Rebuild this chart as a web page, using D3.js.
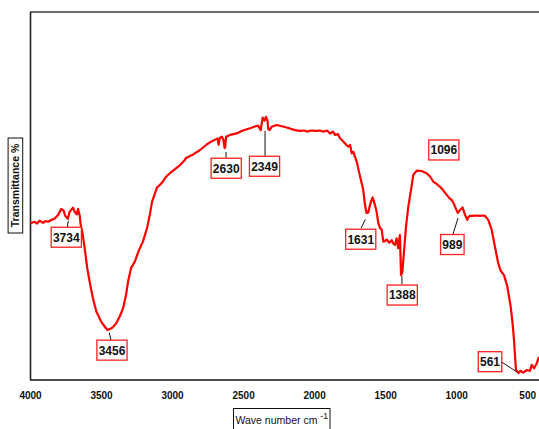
<!DOCTYPE html>
<html>
<head>
<meta charset="utf-8">
<script src="https://cdn.jsdelivr.net/npm/d3@7/dist/d3.min.js"></script>
<style>
  html, body { margin: 0; padding: 0; background: #fff; }
  svg { display: block; font-family: "Liberation Sans", Arial, sans-serif; }
</style>
</head>
<body>
<svg id="chart" width="539" height="429"></svg>
<script>
// FTIR spectrum: wavenumber (cm-1) and transmittance (%)
const wavenumber = [
  3996, 3967, 3951, 3932, 3908, 3892, 3873, 3850, 3826, 3803,
  3780, 3763, 3752, 3734, 3721, 3697, 3685, 3671, 3662, 3650,
  3643, 3632, 3615, 3597, 3580, 3557, 3533, 3498, 3472, 3456,
  3423, 3393, 3367, 3345, 3324, 3310, 3289, 3263, 3233, 3205,
  3176, 3157, 3141, 3120, 3106, 3073, 3043, 3015, 2979, 2944,
  2916, 2902, 2851, 2803, 2756, 2719, 2680, 2672, 2664, 2649,
  2638, 2630, 2626, 2620, 2592, 2545, 2501, 2451, 2416, 2393,
  2376, 2362, 2349, 2339, 2328, 2323, 2314, 2299, 2263, 2193,
  2135, 2099, 2071, 2052, 2022, 1982, 1959, 1935, 1909, 1888,
  1867, 1853, 1832, 1818, 1795, 1774, 1758, 1747, 1735, 1724,
  1700, 1677, 1654, 1642, 1631, 1619, 1603, 1588, 1572, 1560,
  1548, 1536, 1524, 1513, 1501, 1489, 1471, 1454, 1443, 1431,
  1419, 1408, 1396, 1388, 1379, 1372, 1353, 1337, 1318, 1302,
  1278, 1243, 1208, 1184, 1161, 1138, 1114, 1096, 1089, 1066,
  1050, 1031, 1019, 1008, 989, 973, 955, 937, 922, 913,
  903, 882, 856, 832, 811, 797, 774, 750, 727, 704,
  687, 663, 640, 616, 604, 593, 586, 579, 561, 546,
  537, 528, 504, 480, 468, 452, 433, 417
];
const transmittance = [
  42.6, 43.0, 42.5, 43.3, 42.7, 43.2, 43.0, 43.5, 43.9, 44.8,
  46.5, 46.0, 44.6, 43.8, 45.7, 46.8, 45.7, 45.0, 46.5, 44.6,
  42.1, 40.3, 35.8, 30.4, 26.7, 22.2, 18.6, 15.8, 14.4, 13.6,
  14.1, 15.4, 17.4, 19.5, 23.1, 26.7, 30.4, 32.1, 35.3, 37.6,
  41.3, 44.8, 48.4, 50.8, 52.3, 53.5, 55.2, 56.2, 57.3, 58.4,
  59.5, 60.3, 61.3, 62.5, 64.0, 64.9, 65.6, 63.9, 65.8, 66.1,
  65.2, 63.0, 63.2, 66.1, 66.6, 67.0, 67.8, 68.4, 68.9, 69.1,
  67.9, 71.3, 70.5, 71.5, 70.4, 68.2, 67.9, 68.8, 69.3, 68.6,
  67.9, 67.7, 67.8, 67.5, 67.8, 67.7, 67.8, 67.5, 67.8, 67.0,
  67.5, 66.6, 66.8, 65.7, 64.8, 63.9, 63.4, 63.9, 61.6, 62.0,
  59.3, 55.4, 51.6, 47.6, 45.4, 45.5, 48.1, 49.6, 47.6, 45.7,
  42.6, 41.3, 40.8, 37.6, 37.8, 38.2, 37.3, 38.0, 37.1, 36.7,
  38.5, 35.8, 39.4, 28.5, 29.3, 32.6, 41.7, 47.1, 51.6, 55.7,
  56.9, 56.8, 56.2, 55.3, 53.9, 53.3, 52.5, 51.8, 51.4, 50.3,
  49.5, 48.9, 48.1, 47.1, 45.4, 46.2, 46.9, 44.8, 43.5, 44.3,
  44.6, 44.6, 44.7, 44.6, 44.7, 44.6, 43.5, 40.8, 36.2, 31.7,
  29.7, 28.5, 25.4, 19.9, 15.8, 10.9, 6.8, 2.7, 1.9, 2.5,
  2.2, 2.0, 2.7, 2.5, 4.1, 3.2, 4.5, 6.3
];

// Axis tick values and annotated band positions
const xTicks = [4000, 3500, 3000, 2500, 2000, 1500, 1000, 500];
const peakLabels = [3734, 3456, 2630, 2349, 1096, 1631, 1388, 989, 561];

const svg = d3.select("#chart");
const margin = { left: 30, top: 12, bottom: 380 };

const x = d3.scaleLinear().domain([4000, 400]).range([30, 541.4]);
const y = d3.scaleLinear().domain([0, 100]).range([380, 12]);

const data = wavenumber.map((w, i) => ({ w, t: transmittance[i] }));

// Frame (left, top, bottom)
svg.append("line").attr("x1", 30).attr("x2", 539).attr("y1", 12).attr("y2", 12)
  .attr("stroke", "#3a3a3a").attr("stroke-width", 1.6);
svg.append("line").attr("x1", 30.5).attr("x2", 30.5).attr("y1", 12).attr("y2", 380)
  .attr("stroke", "#222").attr("stroke-width", 1.6);
svg.append("line").attr("x1", 30).attr("x2", 539).attr("y1", 380).attr("y2", 380)
  .attr("stroke", "#111").attr("stroke-width", 1.6);

// X axis labels (no tick marks)
const xAxis = d3.axisBottom(x).tickValues(xTicks).tickSize(0).tickPadding(0)
  .tickFormat(d3.format("d"));
const gx = svg.append("g").attr("transform", "translate(0,392)").call(xAxis);
gx.select(".domain").remove();
gx.selectAll("text")
  .attr("font-family", "'Liberation Sans', Arial, sans-serif")
  .attr("font-size", 10).attr("font-weight", "bold").attr("fill", "#111")
  .attr("dy", "0.71em");

// Spectrum line
const line = d3.line().x(d => x(d.w)).y(d => y(d.t));
svg.append("path").datum(data)
  .attr("d", line)
  .attr("fill", "none")
  .attr("stroke", "#ff0000")
  .attr("stroke-width", 2.2)
  .attr("stroke-linejoin", "round");

// Peak annotations: box centre and leader ends relative to the band point
const annotLayout = {
  3734: { b: [-1.5, 18.4], l: [[0.5, 1.9], [-0.5, 8.6]] },
  3456: { b: [4.7, 20.2], l: [[2, 2.7], [3.7, 10]] },
  2630: { b: [1.6, 20.1], l: [[1.4, 3.8], [1.4, 11.8]] },
  2349: { b: [0, 45.7], l: [[0.5, 10.4], [0.5, 37.1]] },
  1096: { b: [1.3, -39.4], l: null },
  1631: { b: [-5.8, 26.3], l: [[-1.2, 6.4], [-5.5, 15.4]] },
  1388: { b: [1.2, 19.9], l: [[0.9, 1], [0.9, 9.2]] },
  989:  { b: [-5.4, 31.6], l: [[0.3, 5.1], [-4.7, 21.1]] },
  561:  { b: [-28.5, -11.3], l: [[-1.5, -1], [-16.8, -11]] }
};

const gAnn = svg.append("g");
peakLabels.forEach(p => {
  const pt = data.find(d => d.w === p);
  const ax = x(pt.w), ay = y(pt.t);
  const lay = annotLayout[p];
  if (lay.l) {
    gAnn.append("line")
      .attr("x1", ax + lay.l[0][0]).attr("y1", ay + lay.l[0][1])
      .attr("x2", ax + lay.l[1][0]).attr("y2", ay + lay.l[1][1])
      .attr("stroke", "#111").attr("stroke-width", 1);
  }
  const label = String(p);
  const w = label.length * 6.67 + 3.5, h = 20;
  const cx = ax + lay.b[0], cy = ay + lay.b[1];
  gAnn.append("rect")
    .attr("x", cx - w / 2).attr("y", cy - h / 2)
    .attr("width", w).attr("height", h)
    .attr("fill", "#fff").attr("stroke", "#ff2020").attr("stroke-width", 1.3);
  gAnn.append("text")
    .attr("x", cx).attr("y", cy + 4.4)
    .attr("text-anchor", "middle")
    .attr("font-size", 12).attr("font-weight", "bold").attr("fill", "#111")
    .text(label);
});

// Y axis title in a box
const yTitle = svg.append("g").attr("transform", "translate(15.4,185.5) rotate(-90)");
yTitle.append("rect").attr("x", -47.5).attr("y", -7.3).attr("width", 95).attr("height", 14.6)
  .attr("fill", "#fff").attr("stroke", "#111").attr("stroke-width", 1);
yTitle.append("text").attr("x", 0).attr("y", 3.8)
  .attr("text-anchor", "middle").attr("font-size", 10.5).attr("font-weight", "bold")
  .attr("fill", "#111").text("Transmittance %");

// X axis title in a box
const xTitle = svg.append("g");
xTitle.append("rect").attr("x", 233.5).attr("y", 408.5).attr("width", 96.5).attr("height", 24)
  .attr("fill", "#fff").attr("stroke", "#111").attr("stroke-width", 1);
const xt = xTitle.append("text").attr("x", 235.5).attr("y", 424)
  .attr("font-size", 10.5).attr("fill", "#111");
xt.append("tspan").text("Wave number cm ");
xt.append("tspan").attr("font-size", 8.5).attr("dy", -5).text("-1");
</script>
</body>
</html>
